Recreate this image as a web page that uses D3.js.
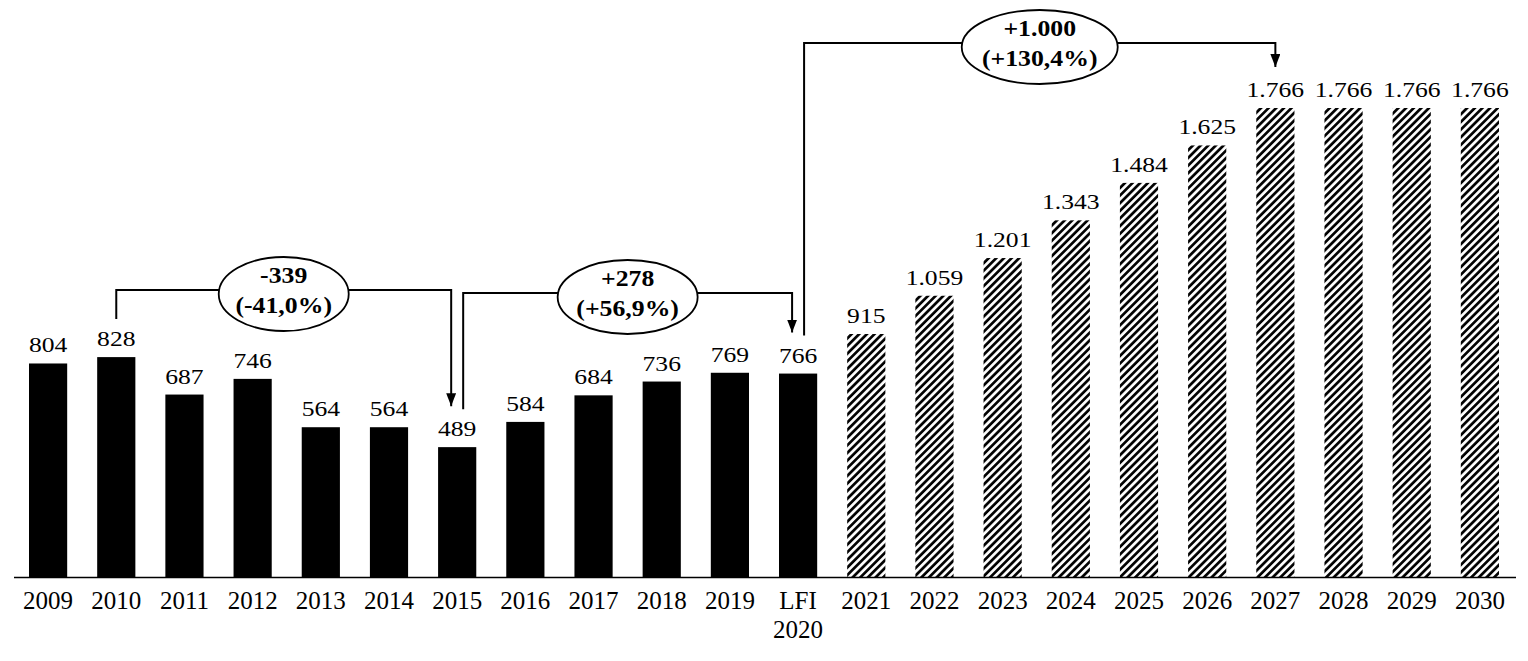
<!DOCTYPE html>
<html><head><meta charset="utf-8">
<script src="https://cdn.jsdelivr.net/npm/d3@7"></script>
<style>html,body{margin:0;padding:0;background:#fff;}svg{display:block;}</style>
</head><body>
<svg id="chart" width="1528" height="661"></svg>
<script>
// ---- data ----
const categories = ["2009","2010","2011","2012","2013","2014","2015","2016","2017","2018","2019","LFI 2020","2021","2022","2023","2024","2025","2026","2027","2028","2029","2030"];
const values = [804,828,687,746,564,564,489,584,684,736,769,766,915,1059,1201,1343,1484,1625,1766,1766,1766,1766];
const projectedFrom = "2021";
const annoFrom = ["2010","2015","LFI 2020"];
const annoTo = ["2015","LFI 2020","2027"];
const annoLine1 = ["-339","+278","+1.000"];
const annoLine2 = ["(-41,0%)","(+56,9%)","(+130,4%)"];

// ---- layout ----
const W = 1528, H = 661;
const baseY = 577, left = 14, right = 1514;
const annoLevelY = [290, 293, 43];
const annoFromDx = [0, 6, 6];
const annoToDx = [-6, -6, 0];
const annoRx = [65, 70, 78];

const svg = d3.select("#chart");
const fmt = d3.formatLocale({decimal:",", thousands:".", grouping:[3], currency:["",""]}).format(",d");

const x = d3.scaleBand().domain(categories).range([left, right]).paddingInner(0.44).paddingOuter(0.22);
const y = d3.scaleLinear().domain([0, 1766]).range([baseY, 108]);

const defs = svg.append("defs");
const P = 5.4;
const pat = defs.append("pattern").attr("id","hatch").attr("patternUnits","userSpaceOnUse")
  .attr("width",P).attr("height",P).attr("patternTransform","rotate(45)");
pat.append("rect").attr("width",P).attr("height",P).attr("fill","#fff");
pat.append("line").attr("x1",1.4).attr("y1",0).attr("x2",1.4).attr("y2",P).attr("stroke","#000").attr("stroke-width",2.7);
defs.append("marker").attr("id","arrow").attr("viewBox","0 0 13 10").attr("refX",13).attr("refY",5)
  .attr("markerWidth",13).attr("markerHeight",10).attr("markerUnits","userSpaceOnUse").attr("orient","auto")
  .append("path").attr("d","M0,0 L13,5 L0,10 Z").attr("fill","#000");

const projIdx = categories.indexOf(projectedFrom);
const data = categories.map((c,i)=>({c, v: values[i], proj: i >= projIdx}));

// bars
svg.append("g").selectAll("rect").data(data).join("rect")
  .attr("x", d=>x(d.c)).attr("width", x.bandwidth())
  .attr("y", d=>y(d.v)).attr("height", d=>baseY - y(d.v))
  .attr("fill", d=>d.proj ? "url(#hatch)" : "#000");

// value labels
svg.append("g").selectAll("g").data(data).join("g")
  .attr("transform", d=>`translate(${x(d.c)+x.bandwidth()/2},${y(d.v)-11}) scale(1.22,1)`)
  .append("text").attr("text-anchor","middle")
  .attr("font-family","'Liberation Serif', serif").attr("font-size",21).attr("fill","#000")
  .text(d=>fmt(d.v));

// axis
const axis = d3.axisBottom(x).tickSize(0).tickPadding(0);
const ag = svg.append("g").attr("transform",`translate(0,${baseY})`).call(axis);
ag.select(".domain").attr("d",`M${left},0.5H${W-12}`).attr("stroke","#000").attr("stroke-width",1.5);
ag.selectAll(".tick text").remove();
ag.selectAll(".tick").each(function(d){
  const parts = d.split(" ");
  const t = d3.select(this).append("text").attr("text-anchor","middle")
    .attr("font-family","'Liberation Serif', serif").attr("font-size",25).attr("fill","#000");
  parts.forEach((p,i)=>t.append("tspan").attr("x",0).attr("y",32 + i*29).text(p));
});

// annotations
const ann = svg.append("g");
annoFrom.forEach((f,i)=>{
  const t = annoTo[i];
  const x1 = x(f) + x.bandwidth()/2 + annoFromDx[i];
  const x2 = x(t) + x.bandwidth()/2 + annoToDx[i];
  const y1 = y(values[categories.indexOf(f)]) - 38;
  const y2 = y(values[categories.indexOf(t)]) - 41;
  const ly = annoLevelY[i];
  ann.append("path").attr("d",`M${x1},${y1}V${ly}H${x2}V${y2}`)
    .attr("fill","none").attr("stroke","#000").attr("stroke-width",2)
    .attr("marker-end","url(#arrow)");
  const cx = (x1+x2)/2;
  ann.append("ellipse").attr("cx",cx).attr("cy",ly+4).attr("rx",annoRx[i]).attr("ry",37)
    .attr("fill","#fff").attr("stroke","#000").attr("stroke-width",1.8);
  [annoLine1[i], annoLine2[i]].forEach((s,k)=>{
    ann.append("g").attr("transform",`translate(${cx},${ly-7+k*30}) scale(1.12,1)`)
      .append("text").attr("text-anchor","middle").attr("font-weight","bold")
      .attr("font-family","'Liberation Serif', serif").attr("font-size",23).attr("fill","#000").text(s);
  });
});
</script>
</body></html>
